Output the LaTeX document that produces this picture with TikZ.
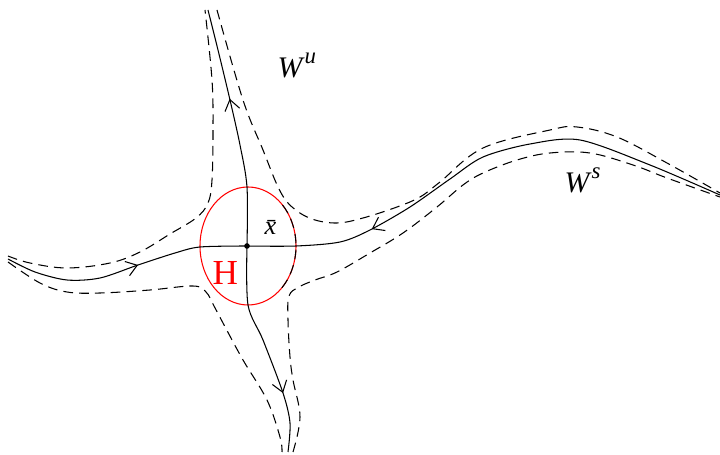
\documentclass[tikz,border=0pt]{standalone}
\usepackage{fontspec}
\setmainfont{Liberation Serif}
\usetikzlibrary{arrows.meta,decorations.markings}

\newcommand\manifold[1]{\textit{W}\raisebox{8pt}{\fontsize{13}{15}\selectfont\textit{#1}}}

\tikzset{
  flow/.style={postaction={decorate}, decoration={markings,
      mark=at position #1 with {\arrow{Straight Barb[length=6pt,width=8.5pt]}}}},
  tube/.style={dash pattern=on 5.5pt off 3.5pt},
  lbl/.style={anchor=base west, inner sep=0pt},
}

\begin{document}
\begin{tikzpicture}[x=0.02cm, y=-0.02cm, line width=0.6pt]
\useasboundingbox (0,0) rectangle (720,455);
\coordinate (xbar) at (247,246);
% the neighbourhood H
\draw[red] (248,246) ellipse [x radius=48, y radius=59];
\draw[tube] plot[domain=-45:50, samples=30] ({248+48*cos(\x)}, {246-59*sin(\x)});
% dashed tubes
\draw[tube] plot[smooth, tension=0.6] coordinates {(8,256) (30,263) (67,268) (110,263) (140,252) (170,234) (196,218) (208,203) (212,180) (213,130) (212,80) (205,10)};
\draw[tube] plot[smooth, tension=0.6] coordinates {(8,262) (40,283) (67,292) (100,293) (150,290) (193,286) (206,292) (214,306) (223,323) (243,360) (267,400) (280,437) (282,452)};
\draw[tube] plot[smooth, tension=0.6] coordinates {(217,10) (243,100) (263,150) (279,189) (292,207) (312,219) (337,223) (363,218) (397,207) (420,197) (440,182) (483,148) (550,130) (577,127) (617,137) (667,163) (720,193)};
\draw[tube] plot[smooth, tension=0.6] coordinates {(293,452) (300,417) (293,380) (290,357) (288,320) (289,296) (299,287) (315,280) (337,272) (370,253) (403,233) (437,207) (463,185) (483,173) (517,160) (550,153) (590,153) (633,165) (667,178) (720,197)};
% stable manifold
\draw[flow=0.55] plot[smooth] coordinates {(8,259) (35,272) (67,280) (100,278) (138,265) (175,253) (200,247) (xbar)};
\draw[flow=0.75] plot[smooth] coordinates {(720,195) (650,165) (580,140) (530,144) (483,157) (450,179) (410,207) (370,230) (340,242) (296,246) (xbar)};
% unstable manifold
\draw[flow=0.62] plot[smooth] coordinates {(xbar) (247,187) (240,145) (230,100) (218,50) (208,10)};
\draw[flow=0.72] plot[smooth] coordinates {(xbar) (248,305) (263,340) (283,393) (290,423) (288,452)};
\fill (xbar) circle (1.6pt);
% labels
\node[lbl, font=\fontsize{17}{20}\selectfont] (Wu) at (277,78) {\manifold{u}};
\node[lbl, font=\fontsize{17}{20}\selectfont] (Ws) at (564,193) {\manifold{s}};
\node[lbl, font=\fontsize{15}{18}\selectfont] (xlabel) at (264,235) {\textit{\=x}};
\node[lbl, text=red, font=\fontsize{20}{24}\selectfont] (H) at (212,285) {H};
\end{tikzpicture}
\end{document}
